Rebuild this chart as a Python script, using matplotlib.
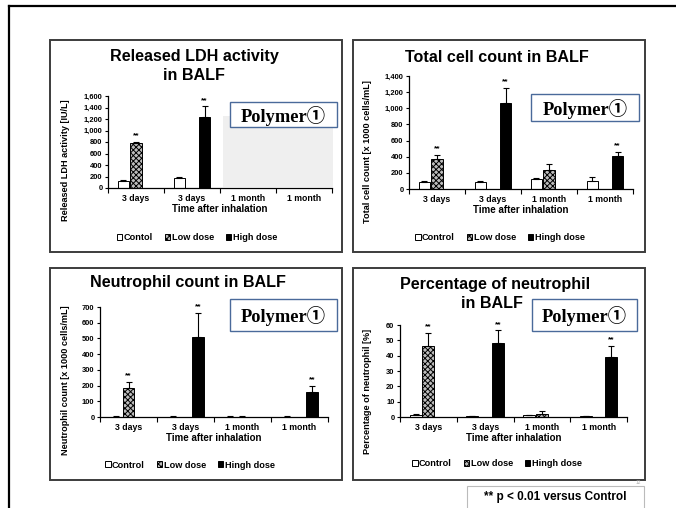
import numpy as np
import matplotlib
matplotlib.use("Agg")
import matplotlib.pyplot as plt
from matplotlib.patches import Rectangle, Patch
from matplotlib.lines import Line2D

W, H = 676, 508
NAN = np.nan

categories = ["3 days", "3 days", "1 month", "1 month"]
xlabel_text = "Time after inhalation"

# Released LDH activity
ldh_ctrl = [120, 170, NAN, NAN]
ldh_ctrl_err = [15, 20, NAN, NAN]
ldh_low = [790, NAN, NAN, NAN]
ldh_low_err = [10, NAN, NAN, NAN]
ldh_high = [NAN, 1230, NAN, NAN]
ldh_high_err = [NAN, 190, NAN, NAN]
ldh_sig = [(0, "low"), (1, "high")]

# Total cell count
tcc_ctrl = [92, 92, 130, 105]
tcc_ctrl_err = [10, 10, 10, 40]
tcc_low = [375, NAN, 235, NAN]
tcc_low_err = [50, NAN, 70, NAN]
tcc_high = [NAN, 1060, NAN, 405]
tcc_high_err = [NAN, 190, NAN, 55]
tcc_sig = [(0, "low"), (1, "high"), (3, "high")]

# Neutrophil count
neu_ctrl = [3, 3, 3, 3]
neu_ctrl_err = [1, 1, 1, 1]
neu_low = [187, NAN, 3, NAN]
neu_low_err = [35, NAN, 1, NAN]
neu_high = [NAN, 510, NAN, 160]
neu_high_err = [NAN, 155, NAN, 35]
neu_sig = [(0, "low"), (1, "high"), (3, "high")]

# Percentage of neutrophil
pct_ctrl = [1.0, 0.5, 1.0, 0.5]
pct_ctrl_err = [0.8, 0.2, 0.5, 0.2]
pct_low = [46, NAN, 1.8, NAN]
pct_low_err = [9, NAN, 2, NAN]
pct_high = [NAN, 48, NAN, 39]
pct_high_err = [NAN, 8.5, NAN, 7.5]
pct_sig = [(0, "low"), (1, "high"), (3, "high")]

plt.rcParams["font.family"] = ["Liberation Sans", "DejaVu Sans"]
plt.rcParams["hatch.linewidth"] = 0.7

LOW_FACE = "#bdbdbd"
LOW_HATCH = "xxxxxx"

fig = plt.figure(figsize=(W / 100, H / 100), dpi=100)


def fx(x):
    return x / W


def fy(y):
    return 1 - y / H


def add_ax(x0, y0, x1, y1):
    return fig.add_axes([fx(x0), fy(y1), fx(x1) - fx(x0), fy(y0) - fy(y1)])


def panel_frame(x0, y0, x1, y1):
    fig.add_artist(Rectangle((fx(x0), fy(y1)), fx(x1) - fx(x0), fy(y0) - fy(y1),
                             transform=fig.transFigure, fill=False,
                             edgecolor="#3c3c3c", lw=1.4))


def polymer_box(x0, y0, x1, y1):
    fig.add_artist(Rectangle((fx(x0), fy(y1)), fx(x1) - fx(x0), fy(y0) - fy(y1),
                             transform=fig.transFigure, facecolor="white",
                             edgecolor="#4a6a9a", lw=1.0, zorder=5))
    fig.text(fx((x0 + x1) / 2), fy((y0 + y1) / 2) - 0.002, "Polymer\u2460",
             family=["Liberation Serif", "DejaVu Serif", "Noto Sans CJK JP"],
             weight="bold", fontsize=13.2, ha="center", va="center", zorder=6)


def title(x, y, text):
    fig.text(fx(x), fy(y), text, ha="center", va="center", fontsize=11.6,
             weight="bold")


W_BAR = 0.21
OFF = 0.225


def draw_bars(ax, ctrl, ctrl_e, low, low_e, high, high_e, sig, ymax, step):
    xc = np.arange(4) + 0.5
    series = {
        "ctrl": (xc - OFF, ctrl, ctrl_e, dict(facecolor="white", edgecolor="black")),
        "low": (xc, low, low_e, dict(facecolor=LOW_FACE, edgecolor="black", hatch=LOW_HATCH)),
        "high": (xc + OFF, high, high_e, dict(facecolor="black", edgecolor="black")),
    }
    tops = {}
    for key, (xs, vals, errs, style) in series.items():
        vals = np.array(vals, float)
        errs = np.array(errs, float)
        m = ~np.isnan(vals)
        ax.bar(xs[m], vals[m], width=W_BAR, lw=0.7, zorder=2, **style)
        ax.errorbar(xs[m], vals[m], yerr=[np.zeros(m.sum()), errs[m]], fmt="none",
                    ecolor="black", elinewidth=0.8, capsize=2.2, capthick=0.8, zorder=3)
        tops[key] = (xs, vals + np.nan_to_num(errs))
    for i, key in sig:
        xs, t = tops[key]
        ax.text(xs[i], t[i] + ymax * 0.025, "**", ha="center", va="bottom",
                fontsize=6, weight="bold")
    ax.set_xlim(0, 4)
    ax.set_ylim(0, ymax)
    ax.set_yticks(np.arange(0, ymax + step / 2, step))
    ax.yaxis.set_major_formatter(matplotlib.ticker.FuncFormatter(lambda v, p: f"{v:,.0f}"))
    ax.set_xticks(np.arange(5))
    ax.set_xticklabels([])
    ax.set_xticks(xc, minor=True)
    ax.set_xticklabels(categories, minor=True)
    ax.tick_params(axis="x", which="major", length=3.5, width=0.8, direction="out")
    ax.tick_params(axis="x", which="minor", length=0, labelsize=6.3, pad=4)
    ax.tick_params(axis="y", length=2.5, width=0.8, labelsize=5.4, pad=1.5)
    for lab in ax.get_xticklabels(minor=True) + ax.get_yticklabels():
        lab.set_fontweight("bold")
    for s in ("top", "right"):
        ax.spines[s].set_visible(False)
    for s in ("left", "bottom"):
        ax.spines[s].set_linewidth(0.9)
    ax.set_xlabel(xlabel_text, fontsize=7, weight="bold", labelpad=1)
    ax.patch.set_alpha(0)


def legend(cx, cy, labels):
    handles = [Patch(facecolor="white", edgecolor="black", lw=0.7),
               Patch(facecolor=LOW_FACE, edgecolor="black", hatch=LOW_HATCH, lw=0.7),
               Patch(facecolor="black", edgecolor="black", lw=0.7)]
    fig.legend(handles, labels, loc="center", bbox_to_anchor=(fx(cx), fy(cy)),
               ncol=3, frameon=False, handlelength=0.6, handleheight=0.6,
               handletextpad=0.15, columnspacing=1.3, borderpad=0,
               prop=dict(size=6.6, weight="bold"))


def ylabel(x, y, text):
    fig.text(fx(x), fy(y), text, rotation=90, ha="center", va="center",
             fontsize=6.6, weight="bold")


# outer slide frame
fig.add_artist(Line2D([fx(9), fx(9)], [fy(6), 0], transform=fig.transFigure,
                      color="black", lw=1.6))
fig.add_artist(Line2D([fx(9), 1], [fy(6), fy(6)], transform=fig.transFigure,
                      color="black", lw=1.6))

# panel frames
panel_frame(50, 40, 342, 252)
panel_frame(353, 40, 645, 252)
panel_frame(50, 268, 342, 480)
panel_frame(353, 268, 645, 480)

# Released LDH activity
fig.add_artist(Rectangle((fx(223), fy(187)), fx(333) - fx(223), fy(116) - fy(187),
                         transform=fig.transFigure, facecolor="#efefef",
                         edgecolor="none", zorder=0))
ax1 = add_ax(108, 96, 332, 188)
draw_bars(ax1, ldh_ctrl, ldh_ctrl_err, ldh_low, ldh_low_err, ldh_high, ldh_high_err,
          ldh_sig, 1600, 200)
title(194, 57, "Released LDH activity")
title(194, 75, "in BALF")
ylabel(65, 160, "Released LDH activity [IU/L]")
legend(197, 238, ["Contol", "Low dose", "High dose"])
polymer_box(230, 102, 337, 127)

# Total cell count
ax2 = add_ax(409, 76, 633, 189)
draw_bars(ax2, tcc_ctrl, tcc_ctrl_err, tcc_low, tcc_low_err, tcc_high, tcc_high_err,
          tcc_sig, 1400, 200)
title(497, 57, "Total cell count in BALF")
ylabel(368, 152, "Total cell count [x 1000 cells/mL]")
legend(500, 238, ["Control", "Low dose", "Hingh dose"])
polymer_box(531, 94, 639, 121)

# Neutrophil count
ax3 = add_ax(100, 307, 328, 417)
draw_bars(ax3, neu_ctrl, neu_ctrl_err, neu_low, neu_low_err, neu_high, neu_high_err,
          neu_sig, 700, 100)
title(188, 282, "Neutrophil count in BALF")
ylabel(65, 380, "Neutrophil count [x 1000 cells/mL]")
legend(190, 465, ["Control", "Low dose", "Hingh dose"])
polymer_box(230, 299, 337, 331)

# Percentage of neutrophil
ax4 = add_ax(400, 325, 627, 417)
draw_bars(ax4, pct_ctrl, pct_ctrl_err, pct_low, pct_low_err, pct_high, pct_high_err,
          pct_sig, 60, 10)
title(495, 284, "Percentage of neutrophil")
title(492, 304, "in BALF")
ylabel(367, 391, "Percentage of neutrophil [%]")
legend(497, 464, ["Control", "Low dose", "Hingh dose"])
polymer_box(532, 299, 637, 331)

# footnote
fig.add_artist(Rectangle((fx(467), fy(510)), fx(644) - fx(467), fy(486) - fy(510),
                         transform=fig.transFigure, facecolor="white",
                         edgecolor="#bbbbbb", lw=0.8))
fig.text(fx(555), fy(497), "** p < 0.01 versus Control", ha="center", va="center",
         fontsize=8.5, weight="bold")
fig.text(fx(638), fy(483), "12", ha="center", va="center", fontsize=3.5,
         color="#aaaaaa")

fig.savefig("out.png", dpi=100)
